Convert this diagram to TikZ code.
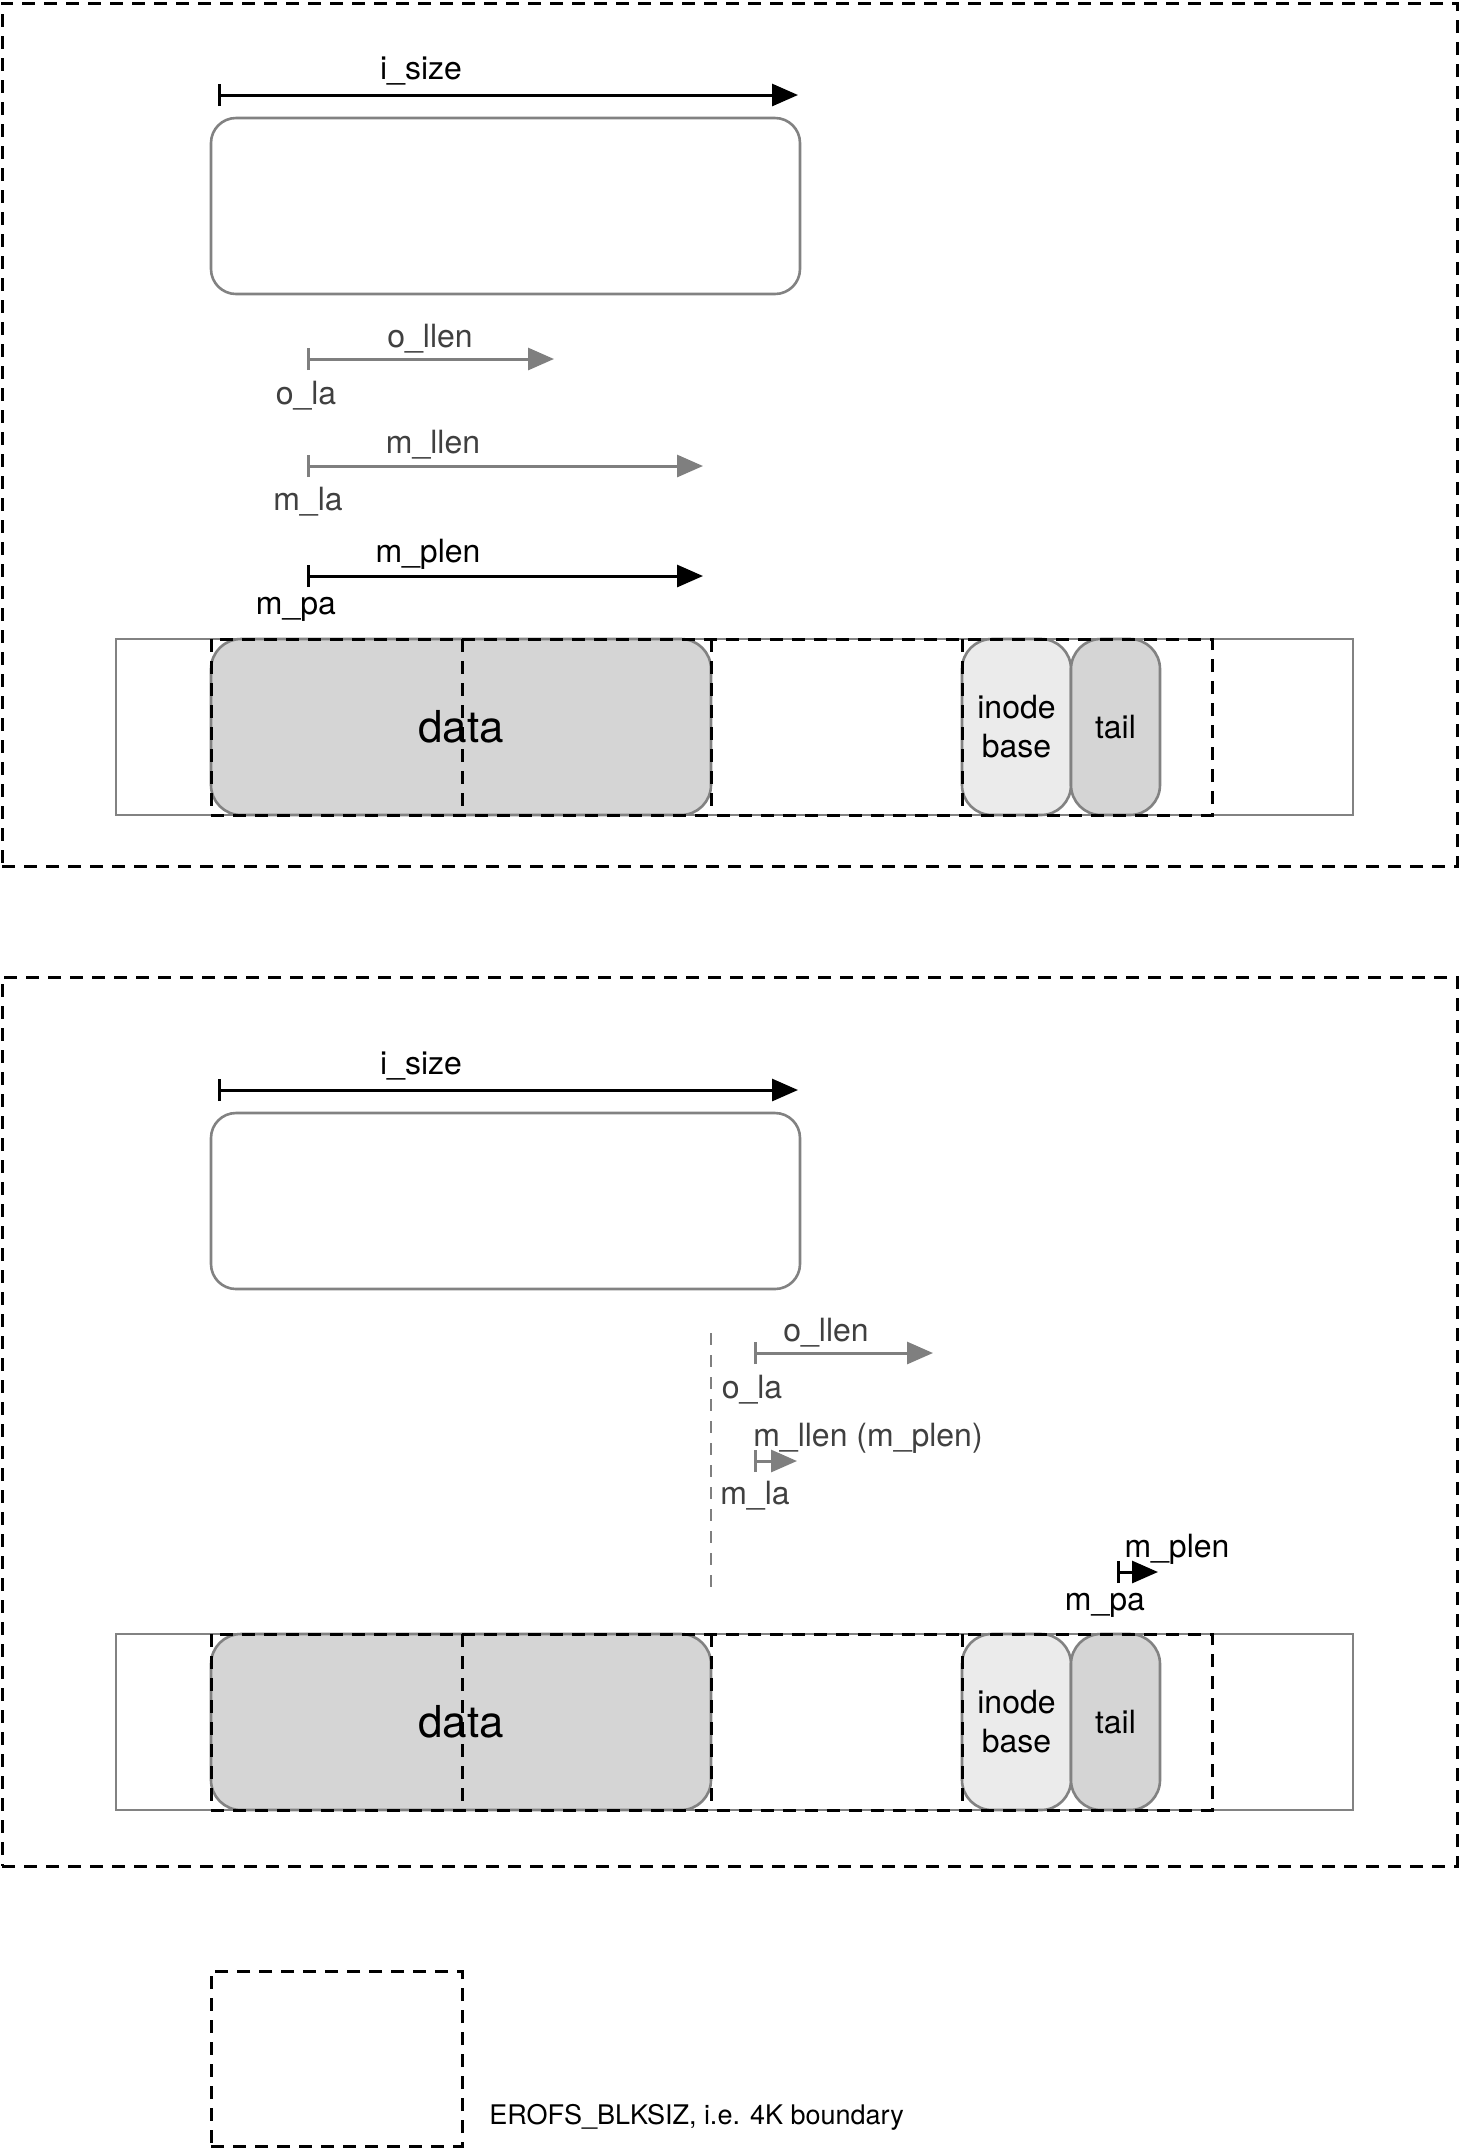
\documentclass[tikz,border=0pt]{standalone}
\usepackage{fontspec}
\setmainfont{TeX Gyre Heros}
\usetikzlibrary{arrows.meta}
\definecolor{boxgray}{HTML}{828282}
\definecolor{arrowgray}{HTML}{7F7F7F}
\definecolor{labelgray}{HTML}{404040}
\definecolor{datafill}{HTML}{D5D5D5}
\definecolor{inodefill}{HTML}{EBEBEB}
\tikzset{
  blkdash/.style={draw=black, line width=1.5pt, dash pattern=on 6.5pt off 4.5pt, inner sep=0pt},
  graydash/.style={draw=arrowgray, line width=1.3pt, dash pattern=on 6pt off 5pt},
  graybox/.style={draw=boxgray, line width=1.3pt, inner sep=0pt},
  roundbox/.style={graybox, rounded corners=15pt},
  sizearrow/.style={line width=1.5pt, {Bar[width=11pt]}-{Triangle[length=13pt,width=11pt]}},
  grayarrow/.style={sizearrow, color=arrowgray},
  lbl/.style={inner sep=0pt},
  graylbl/.style={lbl, text=labelgray}
}
\begin{document}
\begin{tikzpicture}[x=0.5pt,y=-0.5pt,font=\fontsize{16}{19}\selectfont]
\useasboundingbox (0,0) rectangle (1461,2149);

% first layout
\node[blkdash, minimum width=727.5pt, minimum height=431.5pt] (frameA) at (729.5,434.5) {};
\coordinate (isizeAs) at (218,95);
\coordinate (isizeAe) at (798,95);
\draw[sizearrow] (isizeAs) -- (isizeAe);
\node[lbl] (isizeA) at (421,71) {i\_size};
\node[graybox, rounded corners=12.5pt, minimum width=294.5pt, minimum height=88pt] (fileA) at (505.5,206) {};

\coordinate (ollenAs) at (307,359);
\coordinate (ollenAe) at (554,359);
\draw[grayarrow] (ollenAs) -- (ollenAe);
\node[graylbl] (ollenA) at (430,339) {o\_llen};
\node[graylbl] (olaA) at (306,396) {o\_la};
\coordinate (mllenAs) at (307,466);
\coordinate (mllenAe) at (703,466);
\draw[grayarrow] (mllenAs) -- (mllenAe);
\node[graylbl] (mllenA) at (433,445) {m\_llen};
\node[graylbl] (mlaA) at (308,502) {m\_la};
\coordinate (mplenAs) at (307,576);
\coordinate (mplenAe) at (703,576);
\draw[sizearrow] (mplenAs) -- (mplenAe);
\node[lbl] (mplenA) at (428,554) {m\_plen};
\node[lbl] (mpaA) at (296,609) {m\_pa};

\node[graybox, minimum width=618.5pt, minimum height=88pt] (diskA) at (734.5,727) {};
\node[roundbox, fill=datafill, minimum width=250pt, minimum height=88pt,
      font=\fontsize{22}{26}\selectfont] (dataA) at (461,727) {data};
\node[roundbox, fill=inodefill, minimum width=54.5pt, minimum height=88pt,
      align=center, font=\fontsize{16}{19.5}\selectfont] (inodeA) at (1016.5,727) {inode\\base};
\node[roundbox, fill=datafill, minimum width=44.5pt, minimum height=88pt] (tailA) at (1115.5,727) {tail};
% 4K blocks
\node[blkdash, minimum width=500.5pt, minimum height=88pt] (blkA) at (711.5,727) {};
\draw[blkdash] (462,639) -- (462,815);
\draw[blkdash] (711,639) -- (711,815);
\draw[blkdash] (962,639) -- (962,815);

% second layout
\node[blkdash, minimum width=727.5pt, minimum height=444.5pt] (frameB) at (729.5,1421.5) {};
\coordinate (isizeBs) at (218,1090);
\coordinate (isizeBe) at (798,1090);
\draw[sizearrow] (isizeBs) -- (isizeBe);
\node[lbl] (isizeB) at (421,1066) {i\_size};
\node[graybox, rounded corners=12.5pt, minimum width=294.5pt, minimum height=88pt] (fileB) at (505.5,1201) {};

\coordinate (cutT) at (711,1333);
\coordinate (cutB) at (711,1592);
\draw[graydash] (cutT) -- (cutB);
\coordinate (ollenBs) at (754,1353);
\coordinate (ollenBe) at (933,1353);
\draw[grayarrow] (ollenBs) -- (ollenBe);
\node[graylbl] (ollenB) at (826,1333) {o\_llen};
\node[graylbl] (olaB) at (752,1390) {o\_la};
\coordinate (mllenBs) at (754,1461);
\coordinate (mllenBe) at (797,1461);
\draw[grayarrow] (mllenBs) -- (mllenBe);
\node[graylbl] (mllenB) at (868,1438) {m\_llen (m\_plen)};
\node[graylbl] (mlaB) at (755,1496) {m\_la};
\coordinate (mplenBs) at (1117,1572);
\coordinate (mplenBe) at (1158,1572);
\draw[sizearrow] (mplenBs) -- (mplenBe);
\node[lbl] (mplenB) at (1177,1549) {m\_plen};
\node[lbl] (mpaB) at (1105,1605) {m\_pa};

\node[graybox, minimum width=618.5pt, minimum height=88pt] (diskB) at (734.5,1722) {};
\node[roundbox, fill=datafill, minimum width=250pt, minimum height=88pt,
      font=\fontsize{22}{26}\selectfont] (dataB) at (461,1722) {data};
\node[roundbox, fill=inodefill, minimum width=54.5pt, minimum height=88pt,
      align=center, font=\fontsize{16}{19.5}\selectfont] (inodeB) at (1016.5,1722) {inode\\base};
\node[roundbox, fill=datafill, minimum width=44.5pt, minimum height=88pt] (tailB) at (1115.5,1722) {tail};
% 4K blocks
\node[blkdash, minimum width=500.5pt, minimum height=88pt] (blkB) at (711.5,1722) {};
\draw[blkdash] (462,1634) -- (462,1810);
\draw[blkdash] (711,1634) -- (711,1810);
\draw[blkdash] (962,1634) -- (962,1810);

% legend
\node[blkdash, minimum width=125.5pt, minimum height=87.5pt] (legendbox) at (336.5,2058.5) {};
\node[lbl, anchor=west, font=\fontsize{13.5}{16}\selectfont] (legendtxt) at (489,2117)
  {EROFS\_BLKSIZ, i.e. 4K boundary};
\end{tikzpicture}
\end{document}
